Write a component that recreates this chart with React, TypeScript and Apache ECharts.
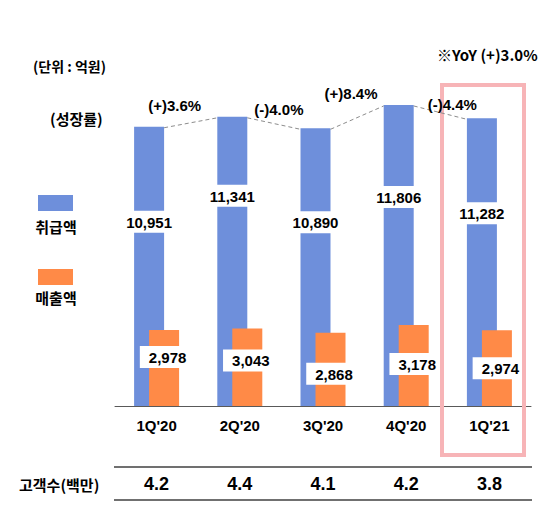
import React, { useEffect, useRef } from "react";
import * as echarts from "echarts";

const categories = ["1Q'20", "2Q'20", "3Q'20", "4Q'20", "1Q'21"];
const transactionValues = [10951, 11341, 10890, 11806, 11282];
const revenueValues = [2978, 3043, 2868, 3178, 2974];
const growthLabels = ["(+)3.6%", "(-)4.0%", "(+)8.4%", "(-)4.4%"];
const customerCounts = [4.2, 4.4, 4.1, 4.2, 3.8];
const yoyNote = "※YoY (+)3.0%";

// layout tweaks (not data)
const blueLabelDist = [84, 68, 83, 81, 84];
const orangeLabelDist = [16, 21, 30, 28, 27];
const growthLabelDx = [-16, 5, -6, 12];
const growthLabelDy = [11, 7, 11, 0];

const BLUE = "#6E8FDB";
const ORANGE = "#FF8A47";
const NUM_FONT = "'Liberation Sans', Arial, sans-serif";
const KR_FONT = "'Noto Sans CJK KR', 'Liberation Sans', sans-serif";

const fmt = (v: number) => v.toLocaleString("en-US");

export default function App() {
  const ref = useRef<HTMLDivElement>(null);
  useEffect(() => {
    if (!ref.current) return;
    const chart = echarts.init(ref.current, undefined, { renderer: "svg" });
    const BAR_W = 30;
    const labelBase = {
      show: true,
      position: "insideTop",
      color: "#000",
      fontFamily: NUM_FONT,
      fontWeight: "bold",
      fontSize: 15,
      backgroundColor: "#fff",
      formatter: (p: any) => fmt(p.value),
    };
    chart.setOption({
      animation: false,
      grid: { left: 115, right: 21, top: 49, bottom: 113 },
      xAxis: {
        type: "category",
        data: categories,
        axisLine: { lineStyle: { color: "#595959", width: 1 } },
        axisTick: { inside: true, length: 5, lineStyle: { color: "#595959" } },
        axisLabel: {
          color: "#000",
          fontFamily: NUM_FONT,
          fontWeight: "bold",
          fontSize: 15,
          margin: 12,
        },
      },
      yAxis: { type: "value", min: 0, max: 14000, show: false },
      series: [
        {
          type: "bar",
          barWidth: BAR_W,
          barGap: "-50%",
          itemStyle: { color: BLUE },
          data: transactionValues.map((v, i) => ({
            value: v,
            label: { ...labelBase, distance: blueLabelDist[i], padding: [4, 3, 3, 3] },
          })),
          z: 2,
        },
        {
          type: "bar",
          barWidth: BAR_W,
          itemStyle: { color: ORANGE },
          data: revenueValues.map((v, i) => ({
            value: v,
            label: { ...labelBase, distance: orangeLabelDist[i], padding: [4, 2, 3, 9] },
          })),
          z: 3,
        },
        {
          type: "custom",
          z: 5,
          data: growthLabels.map((_, i) => [i, transactionValues[i]]),
          renderItem: (params: any, api: any) => {
            const i = params.dataIndex;
            const p1 = api.coord([i, transactionValues[i]]);
            const p2 = api.coord([i + 1, transactionValues[i + 1]]);
            const x1 = p1[0] - BAR_W / 4 + BAR_W / 2;
            const x2 = p2[0] - BAR_W / 4 - BAR_W / 2;
            const mx = (x1 + x2) / 2 + growthLabelDx[i];
            const my = Math.min(p1[1], p2[1]) - growthLabelDy[i];
            return {
              type: "group",
              children: [
                {
                  type: "line",
                  shape: { x1, y1: p1[1] + 1, x2, y2: p2[1] + 1 },
                  style: { stroke: "#8C8C8C", lineWidth: 1, lineDash: [4, 3] },
                },
                {
                  type: "text",
                  style: {
                    text: growthLabels[i],
                    x: mx,
                    y: my,
                    align: "center",
                    verticalAlign: "middle",
                    font: `bold 15px ${NUM_FONT}`,
                    fill: "#000",
                  },
                },
              ],
            };
          },
        },
        {
          type: "custom",
          z: 5,
          clip: false,
          data: customerCounts.map((_, i) => [i, 0]),
          renderItem: (params: any, api: any) => {
            const i = params.dataIndex;
            const p = api.coord([i, 0]);
            return {
              type: "text",
              style: {
                text: customerCounts[i].toFixed(1),
                x: p[0],
                y: 484,
                align: "center",
                verticalAlign: "middle",
                font: `bold 18px ${NUM_FONT}`,
                fill: "#000",
              },
            };
          },
        },
      ],
      graphic: [
        {
          type: "rect",
          shape: { x: 442, y: 85, width: 82, height: 370 },
          style: { fill: "none", stroke: "#F7B4B7", lineWidth: 4 },
          z: 1,
        },
        {
          type: "text",
          style: { text: yoyNote, x: 437, y: 54, verticalAlign: "middle", font: `bold 15px ${KR_FONT}`, fill: "#000" },
        },
        {
          type: "text",
          style: { text: "(단위 : 억원)", x: 33, y: 66, verticalAlign: "middle", font: `bold 14px ${KR_FONT}`, fill: "#000" },
        },
        {
          type: "text",
          style: { text: "(성장률)", x: 50, y: 118, verticalAlign: "middle", font: `bold 15px ${KR_FONT}`, fill: "#000" },
        },
        { type: "rect", shape: { x: 38, y: 195, width: 35, height: 16 }, style: { fill: BLUE } },
        {
          type: "text",
          style: { text: "취급액", x: 56, y: 226, align: "center", verticalAlign: "middle", font: `bold 15px ${KR_FONT}`, fill: "#000" },
        },
        { type: "rect", shape: { x: 38, y: 269, width: 35, height: 16 }, style: { fill: ORANGE } },
        {
          type: "text",
          style: { text: "매출액", x: 56, y: 297, align: "center", verticalAlign: "middle", font: `bold 15px ${KR_FONT}`, fill: "#000" },
        },
        { type: "line", shape: { x1: 114, y1: 467, x2: 532, y2: 467 }, style: { stroke: "#404040", lineWidth: 1.5 } },
        { type: "line", shape: { x1: 114, y1: 500, x2: 532, y2: 500 }, style: { stroke: "#404040", lineWidth: 1.5 } },
        {
          type: "text",
          style: { text: "고객수(백만)", x: 19, y: 484, verticalAlign: "middle", font: `bold 15px ${KR_FONT}`, fill: "#000" },
        },
      ],
    });
    return () => chart.dispose();
  }, []);
  return (
    <div
      ref={ref}
      style={{ position: "absolute", left: 0, top: 0, width: 552, height: 519, background: "#fff" }}
    />
  );
}
